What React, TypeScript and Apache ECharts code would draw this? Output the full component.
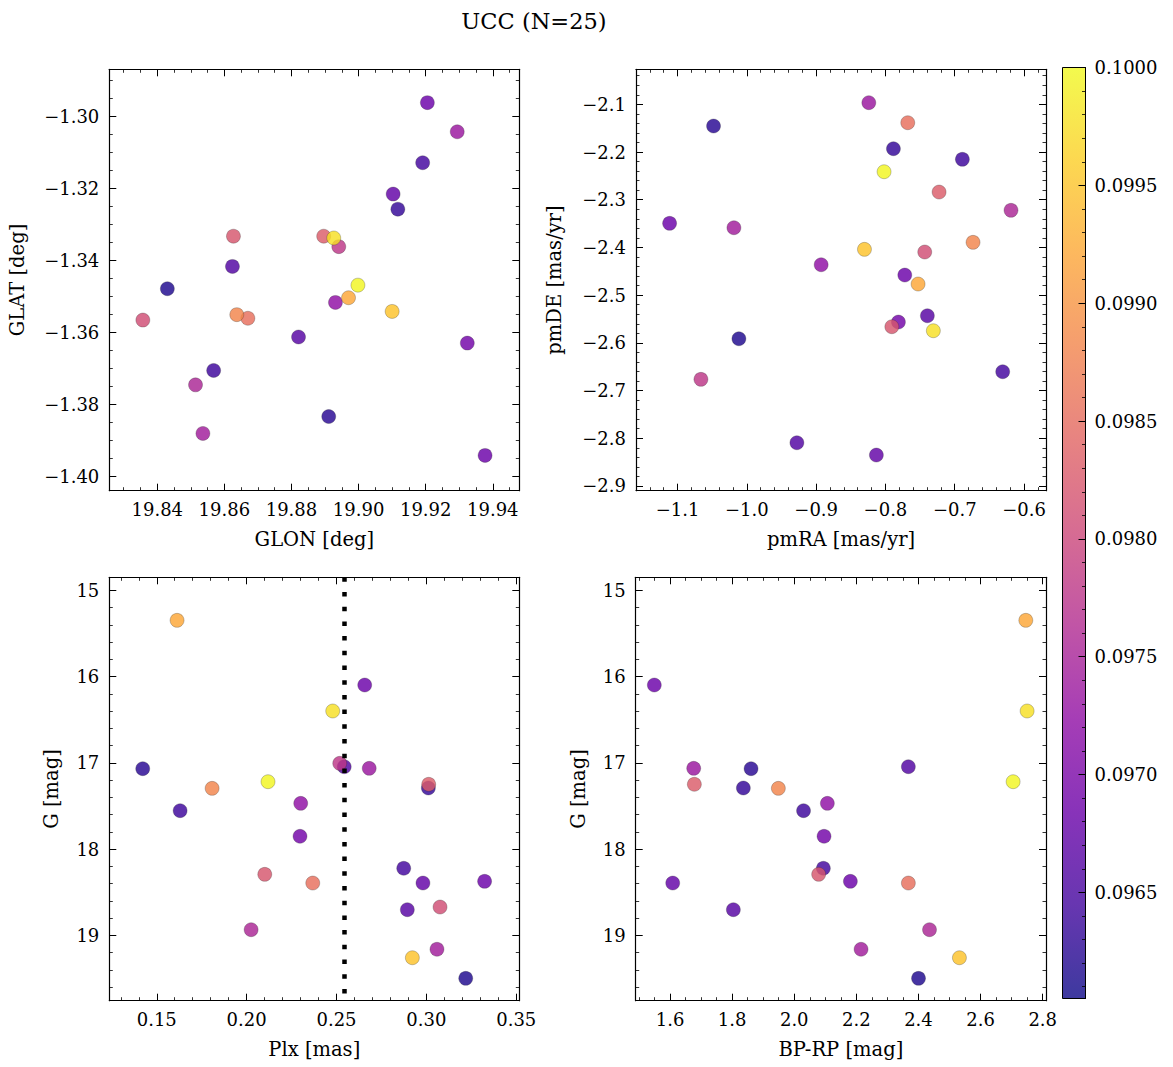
import React, { useEffect, useRef } from "react";
import * as echarts from "echarts";

// 25 members (ordered by colour value)
const glon = [19.8430, 19.8911, 19.9117, 19.8568, 19.9191, 19.8624, 19.8821, 19.9103, 19.9205, 19.9377, 19.9324, 19.8931, 19.9294, 19.8536, 19.8514, 19.8941, 19.8357, 19.8627, 19.8896, 19.8670, 19.8637, 19.8970, 19.9100, 19.8926, 19.8998];
const glat = [-1.3479, -1.3834, -1.3258, -1.3706, -1.3129, -1.3417, -1.3613, -1.3216, -1.2962, -1.3942, -1.3630, -1.3517, -1.3043, -1.3881, -1.3746, -1.3362, -1.3566, -1.3333, -1.3333, -1.3561, -1.3551, -1.3504, -1.3542, -1.3338, -1.3469];
const pmra = [-1.0115, -1.0481, -0.7885, -0.6890, -0.6308, -0.9278, -0.7395, -0.8131, -0.7721, -1.1115, -0.7813, -0.8928, -0.8240, -1.0187, -0.6188, -1.0663, -0.7433, -0.7908, -0.7226, -0.7678, -0.6736, -0.7529, -0.8303, -0.7309, -0.8020];
const pmde = [-2.5914, -2.1455, -2.1931, -2.2153, -2.6606, -2.8094, -2.5432, -2.8352, -2.4579, -2.3495, -2.5564, -2.4363, -2.0966, -2.3587, -2.3222, -2.6765, -2.4096, -2.5662, -2.2839, -2.1386, -2.3893, -2.4767, -2.4040, -2.5746, -2.2413];
const plx = [0.3219, 0.1422, 0.3011, 0.1630, 0.2874, 0.2543, 0.2894, 0.2981, 0.2657, 0.3324, 0.2297, 0.2301, 0.2682, 0.3059, 0.2025, 0.2518, 0.3076, 0.2101, 0.3013, 0.2368, 0.1808, 0.1613, 0.2922, 0.2479, 0.2119];
const gmag = [19.499, 17.068, 17.292, 17.555, 18.223, 17.045, 18.703, 18.394, 16.098, 18.374, 17.852, 17.470, 17.064, 19.162, 18.935, 17.006, 18.672, 18.293, 17.249, 18.394, 17.296, 15.348, 19.260, 16.399, 17.219];
const bprp: (number | null)[] = [2.4001, 1.8609, 1.8361, 2.0299, 2.0937, 2.3674, 1.8039, 1.6087, 1.5494, 2.1807, 2.0959, 2.1066, 1.6763, 2.2151, 2.4355, null, null, 2.0786, 1.6783, 2.3674, 1.9488, 2.7456, 2.5318, 2.7498, 2.7047];
const cval = [0.09617, 0.09625, 0.09633, 0.09641, 0.09645, 0.09660, 0.09664, 0.09676, 0.09684, 0.09684, 0.09692, 0.09724, 0.09735, 0.09743, 0.09755, 0.09779, 0.09810, 0.09822, 0.09830, 0.09854, 0.09882, 0.09921, 0.09949, 0.09976, 0.09996];

const plxLine = 0.2542;
const cMin = 0.09605;
const cMax = 0.1;
const titleText = "UCC (N=25)";

const plasma = ["#0d0887", "#41049d", "#6a00a8", "#8f0da4", "#b12a90", "#cc4778", "#e16462", "#f2844b", "#fca636", "#fcce25", "#f0f921"];

const FONT = "'DejaVu Serif', serif";
const TICK_FS = 18;
const NAME_FS = 19.5;

const fmt = (v: number, d: number) => (v < 0 ? "\u2212" : "") + Math.abs(v).toFixed(d);

function axis(
  gridIndex: number,
  position: string,
  min: number,
  max: number,
  step: number,
  minorSplit: number,
  dec: number,
  labels: boolean,
  extra: any = {}
) {
  return {
    type: "value",
    gridIndex,
    position,
    min,
    max,
    splitNumber: Math.max(1, Math.round((max - min) / step)),
    minInterval: step,
    maxInterval: step,
    axisLine: { show: true, onZero: false, lineStyle: { color: "#000", width: 1.2 } },
    axisTick: { show: true, inside: true, length: 7, lineStyle: { color: "#000", width: 1 } },
    minorTick: { show: true, splitNumber: minorSplit, length: 3.5, lineStyle: { color: "#000", width: 0.8 } },
    splitLine: { show: false },
    minorSplitLine: { show: false },
    axisLabel: {
      show: labels,
      showMinLabel: false,
      showMaxLabel: false,
      margin: 10,
      color: "#000",
      fontFamily: FONT,
      fontSize: TICK_FS,
      formatter: (v: number) => fmt(v, dec),
    },
    nameTextStyle: { color: "#000", fontFamily: FONT, fontSize: NAME_FS },
    nameLocation: "middle",
    ...extra,
  };
}

export default function App() {
  const ref = useRef<HTMLDivElement>(null);
  useEffect(() => {
    document.body.style.margin = "0";
    const chart = echarts.init(ref.current!, undefined, { renderer: "svg" });

    const grids = [
      { left: 109.3, top: 69.3, width: 410, height: 421.4 },
      { left: 636, top: 69.3, width: 410, height: 421.4 },
      { left: 109.3, top: 577.3, width: 410, height: 423.4 },
      { left: 635.7, top: 577.3, width: 410.3, height: 423.4 },
      {
        left: 1062.5,
        top: 67.5,
        width: 23,
        height: 931,
        show: true,
        borderColor: "#000",
        borderWidth: 1,
        backgroundColor: new echarts.graphic.LinearGradient(
          0,
          1,
          0,
          0,
          plasma.map((c, i) => {
            const r = parseInt(c.slice(1, 3), 16), g = parseInt(c.slice(3, 5), 16), b = parseInt(c.slice(5, 7), 16);
            return { offset: i / (plasma.length - 1), color: `rgba(${r},${g},${b},0.8)` };
          })
        ),
      },
    ];

    const xr = [
      [19.8257, 19.9479, 0.02, 4, 2, "GLON [deg]"],
      [-1.16, -0.5683, 0.1, 5, 1, "pmRA [mas/yr]"],
      [0.1236, 0.3517, 0.05, 5, 2, "Plx [mas]"],
      [1.4895, 2.8106, 0.2, 4, 1, "BP-RP [mag]"],
    ] as const;
    const yr = [
      [-1.404, -1.28694, 0.02, 4, 2, "GLAT [deg]", 82, false],
      [-2.9099, -2.0266, 0.1, 5, 1, "pmDE [mas/yr]", 72, false],
      [14.849, 19.758, 1, 5, 0, "G [mag]", 48, true],
      [14.849, 19.758, 1, 5, 0, "G [mag]", 47, true],
    ] as const;

    const xAxis: any[] = [];
    const yAxis: any[] = [];
    for (let k = 0; k < 4; k++) {
      const [a, b, s, m, d, n] = xr[k];
      xAxis.push(axis(k, "bottom", a, b, s, m, d, true, { name: n, nameGap: 39 }));
      xAxis.push(axis(k, "top", a, b, s, m, d, false));
      const [ya, yb, ys, ym, yd, yn, gap, inv] = yr[k];
      yAxis.push(axis(k, "left", ya, yb, ys, ym, yd, true, { name: yn, nameGap: gap, inverse: inv }));
      yAxis.push(axis(k, "right", ya, yb, ys, ym, yd, false, { inverse: inv }));
    }
    xAxis.push({ type: "value", gridIndex: 4, min: 0, max: 1, show: false });
    const cb = axis(4, "right", cMin, cMax, 0.0005, 5, 4, true);
    cb.axisLabel.showMaxLabel = true;
    cb.axisLabel.margin = 9;
    cb.axisLine.lineStyle.width = 1;
    yAxis.push(cb);

    const common = {
      type: "scatter",
      symbolSize: 14,
      itemStyle: { opacity: 0.82, borderColor: "rgba(40,40,40,0.55)", borderWidth: 0.6 },
      emphasis: { disabled: true },
    };

    const series: any[] = [
      { ...common, xAxisIndex: 0, yAxisIndex: 0, data: glon.map((x, i) => [x, glat[i], cval[i]]) },
      { ...common, xAxisIndex: 2, yAxisIndex: 2, data: pmra.map((x, i) => [x, pmde[i], cval[i]]) },
      {
        ...common,
        xAxisIndex: 4,
        yAxisIndex: 4,
        data: plx.map((x, i) => [x, gmag[i], cval[i]]),
        markLine: {
          silent: true,
          precision: 4,
          symbol: ["none", "none"],
          label: { show: false },
          lineStyle: { color: "#000", width: 4.5, type: [4.5, 10.2], cap: "butt", opacity: 1 },
          data: [{ xAxis: plxLine }],
        },
      },
      {
        ...common,
        xAxisIndex: 6,
        yAxisIndex: 6,
        data: bprp.map((x, i) => [x === null ? "-" : x, gmag[i], cval[i]]),
      },
    ];

    chart.setOption({
      animation: false,
      backgroundColor: "#fff",
      title: {
        text: titleText,
        left: 529,
        top: 4,
        textAlign: "center",
        textStyle: { fontFamily: FONT, fontSize: 22.5, fontWeight: "normal", color: "#000" },
      },
      visualMap: {
        type: "continuous",
        show: false,
        min: cMin,
        max: cMax,
        dimension: 2,
        seriesIndex: [0, 1, 2, 3],
        inRange: { color: plasma },
      },
      grid: grids,
      xAxis,
      yAxis,
      series,
    });
    return () => chart.dispose();
  }, []);
  return <div ref={ref} style={{ width: 1173, height: 1067 }} />;
}
